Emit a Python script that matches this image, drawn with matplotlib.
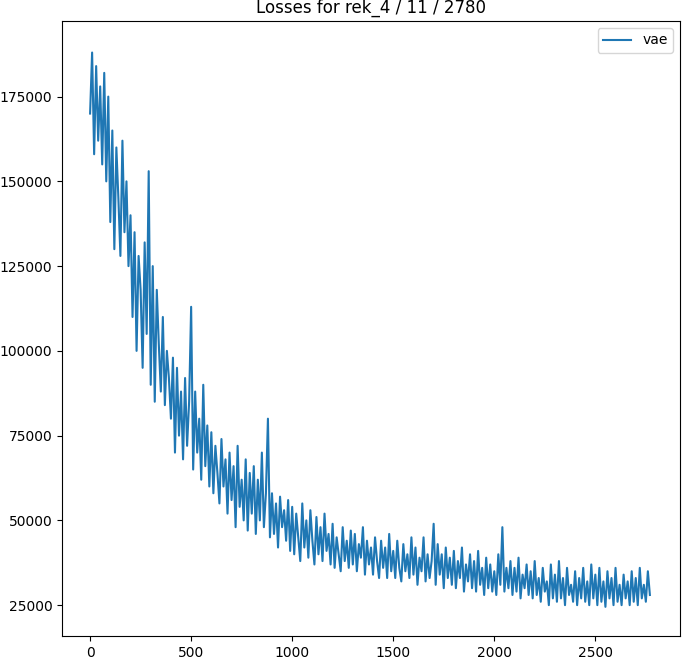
import numpy as np
import matplotlib
matplotlib.use("Agg")
import matplotlib.pyplot as plt

# loss values (in thousands), one every 10 steps
steps = np.arange(0, 2780, 10)
vae_loss_k = [
    170, 188, 158, 184, 162, 178, 155, 182, 150, 175,
    138, 165, 130, 160, 145, 128, 162, 135, 150, 125,
    140, 110, 135, 100, 128, 118, 95, 132, 105, 153,
    90, 125, 85, 118, 102, 88, 110, 84, 100, 92,
    80, 98, 70, 95, 75, 88, 68, 92, 72, 85,
    113, 65, 88, 70, 80, 62, 90, 66, 78, 60,
    76, 58, 72, 64, 55, 74, 60, 68, 52, 70,
    56, 66, 48, 72, 54, 62, 50, 68, 47, 64,
    52, 66, 46, 62, 50, 70, 48, 58, 80, 45,
    58, 46, 55, 42, 57, 48, 53, 44, 56, 41,
    54, 40, 52, 45, 38, 55, 42, 50, 39, 53,
    44, 37, 51, 40, 48, 38, 52, 41, 46, 37,
    49, 36, 45, 40, 35, 48, 38, 44, 36, 47,
    37, 46, 35, 43, 39, 48, 34, 44, 37, 42,
    34, 45, 38, 33, 44, 36, 42, 33, 46, 35,
    41, 33, 44, 36, 32, 43, 35, 40, 33, 45,
    34, 42, 31, 39, 35, 45, 32, 40, 33, 38,
    49, 31, 43, 34, 40, 30, 42, 33, 39, 31,
    41, 30, 38, 33, 42, 29, 37, 32, 40, 30,
    38, 29, 41, 31, 36, 28, 39, 30, 37, 29,
    35, 28, 40, 31, 48, 29, 36, 30, 38, 28,
    36, 29, 39, 27, 34, 30, 37, 28, 35, 27,
    38, 28, 33, 26, 36, 29, 32, 25, 37, 27,
    34, 26, 38, 27, 33, 25, 36, 28, 31, 26,
    35, 25, 33, 27, 36, 26, 32, 25, 37, 27,
    34, 25, 36, 26, 32, 24.5, 35, 27, 33, 25,
    36, 26, 31, 25, 34, 27, 32, 25, 35, 26,
    33, 25, 36, 27, 31, 26, 35, 28,
]
vae_loss = np.array(vae_loss_k) * 1000

fig = plt.figure(figsize=(6.83, 6.57), dpi=100)
ax = fig.add_axes([62 / 683, 21 / 657, 618 / 683, 615 / 657])
ax.plot(steps, vae_loss, color="#1f77b4", label="vae")
ax.set_xlim(-139, 2919)
ax.set_ylim(15900, 197300)
ax.set_title("Losses for rek_4 / 11 / 2780")
ax.legend(loc="upper right")
fig.savefig("out.png", dpi=100)
